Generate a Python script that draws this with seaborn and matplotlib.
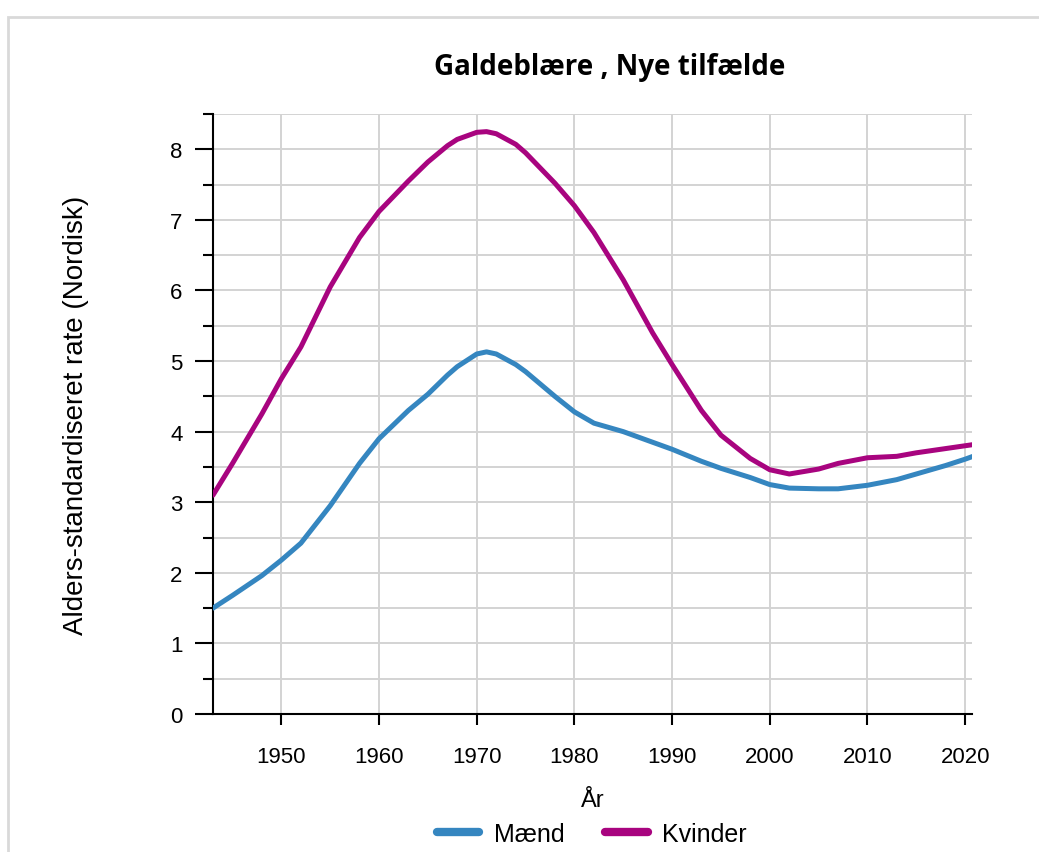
import matplotlib
matplotlib.use('Agg')
import matplotlib.pyplot as plt
import seaborn as sns
import pandas as pd
from matplotlib.patches import Rectangle
from matplotlib.ticker import MultipleLocator

# Aflæste værdier
years = [1943, 1945, 1948, 1950, 1952, 1955, 1958, 1960, 1963, 1965, 1967, 1968, 1970, 1971, 1972,
         1974, 1975, 1978, 1980, 1982, 1985, 1988, 1990, 1993, 1995, 1998, 2000, 2002, 2005, 2007,
         2010, 2013, 2015, 2018, 2020, 2021]
maend = [1.50, 1.68, 1.96, 2.18, 2.42, 2.95, 3.55, 3.90, 4.30, 4.53, 4.80, 4.92, 5.10, 5.13, 5.10,
         4.95, 4.85, 4.50, 4.28, 4.12, 4.00, 3.85, 3.75, 3.58, 3.48, 3.35, 3.25, 3.20, 3.19, 3.19,
         3.24, 3.32, 3.40, 3.52, 3.61, 3.66]
kvinder = [3.10, 3.55, 4.25, 4.75, 5.20, 6.05, 6.75, 7.12, 7.55, 7.82, 8.05, 8.14, 8.24, 8.25, 8.22,
           8.07, 7.95, 7.52, 7.20, 6.82, 6.15, 5.40, 4.95, 4.30, 3.95, 3.62, 3.46, 3.40, 3.47, 3.55,
           3.63, 3.65, 3.70, 3.76, 3.80, 3.82]
labels = ['Mænd', 'Kvinder']
colors = ['#3586c0', '#a8047f']
xticks = [1950, 1960, 1970, 1980, 1990, 2000, 2010, 2020]

df = pd.concat([
    pd.DataFrame({'År': years, 'rate': maend, 'Køn': labels[0]}),
    pd.DataFrame({'År': years, 'rate': kvinder, 'Køn': labels[1]}),
])

sns.set_style('white')
plt.rcParams['font.family'] = ['Liberation Sans', 'DejaVu Sans']
plt.rcParams['text.color'] = 'black'
plt.rcParams['axes.labelcolor'] = 'black'

fig = plt.figure(figsize=(10.39, 8.53), dpi=100)
ax = fig.add_axes([0.205, 0.1618, 0.7305, 0.7034])

# ydre ramme
fig.patches.append(Rectangle((8 / 1039, -0.1), 1.2, (853 - 18) / 853 + 0.1,
                             transform=fig.transFigure, fill=False,
                             edgecolor='#d9d9d9', linewidth=2, zorder=0))

sns.lineplot(data=df, x='År', y='rate', hue='Køn', palette=colors, linewidth=3.6,
             ax=ax, legend=False, zorder=3)
for ln in ax.lines:
    ln.set_solid_joinstyle('round')

ax.set_xlim(1943, 2020.7)
ax.set_ylim(0, 8.5)
ax.set_xticks(xticks)
ax.yaxis.set_major_locator(MultipleLocator(1))
ax.yaxis.set_minor_locator(MultipleLocator(0.5))
ax.grid(True, which='both', axis='y', color='#d3d3d3', linewidth=1.4)
ax.grid(True, which='major', axis='x', color='#d3d3d3', linewidth=1.4)
ax.set_axisbelow(True)

for s in ['top', 'right']:
    ax.spines[s].set_visible(False)
for s in ['left', 'bottom']:
    ax.spines[s].set_color('black')
    ax.spines[s].set_linewidth(1.5)

ax.tick_params(axis='x', which='major', direction='out', length=8, width=1.5,
               colors='black', labelsize=16, pad=15, bottom=True)
ax.tick_params(axis='y', which='major', direction='out', length=13, width=1.5,
               colors='black', labelsize=16, pad=9, left=True)
ax.tick_params(axis='y', which='minor', direction='out', length=7, width=1.5,
               colors='black', left=True)

ax.set_xlabel('År', fontsize=17, labelpad=16)
ax.set_ylabel('Alders-standardiseret rate (Nordisk)', fontsize=20, labelpad=58)

fig.text(610 / 1039, 1 - 67 / 853, 'Galdeblære , Nye tilfælde', ha='center', va='center',
         fontsize=20, fontweight='bold', family=['Open Sans', 'DejaVu Sans'])

handles = [plt.Line2D([], [], color=c, linewidth=6) for c in colors]
fig.legend(handles, labels, loc='center', bbox_to_anchor=(592 / 1039, 1 - 835 / 853),
           ncol=2, frameon=False, fontsize=18, handlelength=1.7, columnspacing=1.6,
           handletextpad=0.6)

fig.savefig('out.png', dpi=100)
